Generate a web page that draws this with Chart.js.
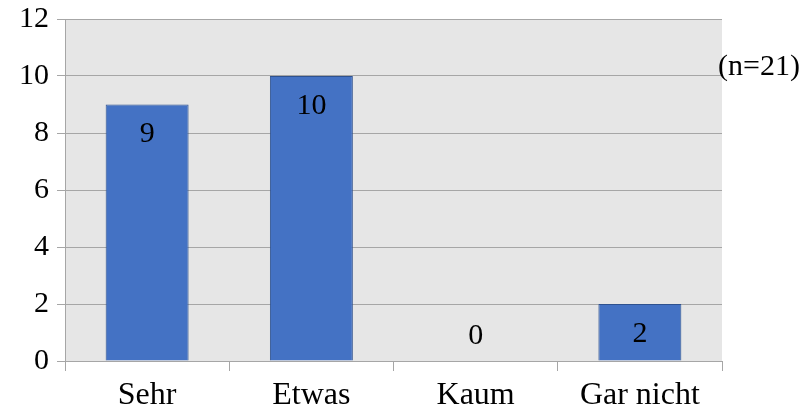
<!DOCTYPE html>
<html>
<head>
<meta charset="utf-8">
<script src="https://cdn.jsdelivr.net/npm/chart.js@4/dist/chart.umd.min.js"></script>
<style>
  html, body { margin: 0; padding: 0; background: #ffffff; }
  #wrap { width: 809px; height: 414px; position: relative; }
</style>
</head>
<body>
<div id="wrap"><canvas id="c"></canvas></div>
<script>
const categories = ['Sehr', 'Etwas', 'Kaum', 'Gar nicht'];
const counts = [9, 10, 0, 2];
const yTicks = [0, 2, 4, 6, 8, 10, 12];
const sampleNote = '(n=21)';

const FONT = "'Liberation Serif', 'Times New Roman', serif";

// Grey plot background
const plotBg = {
  id: 'plotBg',
  beforeDraw(chart) {
    const { ctx, chartArea: a } = chart;
    ctx.save();
    ctx.fillStyle = '#e6e6e6';
    ctx.fillRect(a.left, a.top, a.right - a.left, a.bottom - a.top);
    ctx.restore();
  }
};

// Value labels inside the bar tops, plus the sample size note
const valueLabels = {
  id: 'valueLabels',
  afterDatasetsDraw(chart) {
    const { ctx, chartArea: a } = chart;
    const meta = chart.getDatasetMeta(0);
    ctx.save();
    ctx.font = '30px ' + FONT;
    ctx.fillStyle = '#000000';
    ctx.textAlign = 'center';
    ctx.textBaseline = 'middle';
    meta.data.forEach((bar, i) => {
      const y = Math.min(bar.y + 30, bar.base - 25);
      ctx.fillText(String(counts[i]), bar.x, y);
    });
    const yScale = chart.scales.y;
    ctx.textAlign = 'left';
    ctx.fillText(sampleNote, a.right - 4, yScale.getPixelForValue(10) - 9);
    ctx.restore();
  }
};

new Chart(document.getElementById('c'), {
  type: 'bar',
  data: {
    labels: categories,
    datasets: [{
      data: counts,
      backgroundColor: '#4472c4',
      borderColor: '#2f528f',
      borderWidth: 1,
      barPercentage: 1.0,
      categoryPercentage: 0.505
    }]
  },
  options: {
    responsive: true,
    maintainAspectRatio: false,
    animation: false,
    layout: { autoPadding: false, padding: { top: 19, right: 87, left: 0, bottom: 0 } },
    plugins: { legend: { display: false }, tooltip: { enabled: false } },
    scales: {
      x: {
        grid: { offset: true, drawOnChartArea: false, color: '#a6a6a6', tickLength: 10 },
        border: { color: '#a6a6a6' },
        ticks: { color: '#000000', font: { family: FONT, size: 32, lineHeight: 1.0 }, padding: 9 },
        afterFit(s) { s.height = 53; }
      },
      y: {
        min: 0,
        max: 12,
        afterBuildTicks(s) { s.ticks = yTicks.map(v => ({ value: v })); },
        grid: { color: '#a6a6a6', tickLength: 8 },
        border: { color: '#a6a6a6' },
        ticks: { color: '#000000', font: { family: FONT, size: 30, lineHeight: 0.5 }, padding: 8 },
        afterFit(s) { s.width = 65; }
      }
    }
  },
  plugins: [plotBg, valueLabels]
});
</script>
</body>
</html>
